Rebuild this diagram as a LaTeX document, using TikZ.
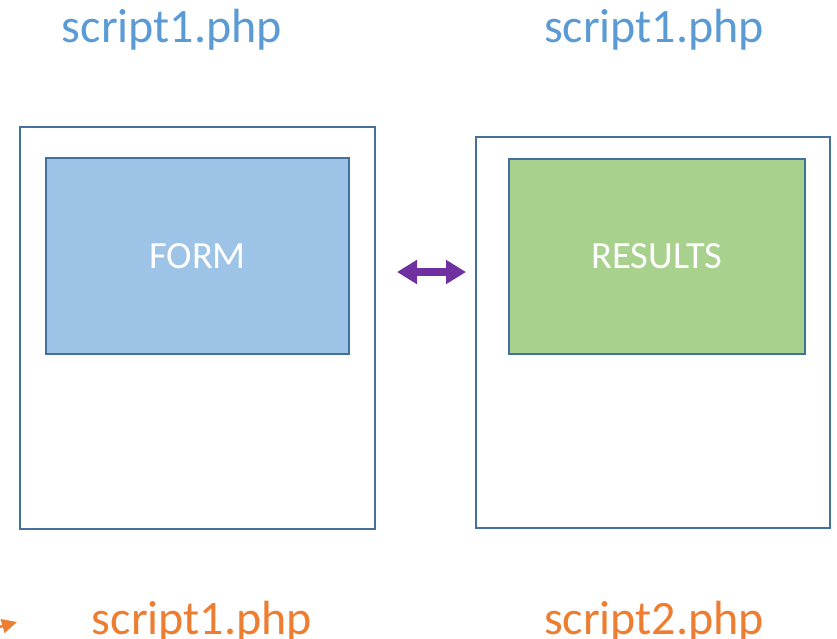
\documentclass[tikz,border=0pt]{standalone}
\usepackage{fontspec}
\setmainfont{Carlito}
\usetikzlibrary{arrows.meta}
\definecolor{titleblue}{HTML}{5B9BD5}
\definecolor{titleorange}{HTML}{ED7D31}
\definecolor{frameblue}{HTML}{41719C}
\definecolor{formfill}{HTML}{9DC3E6}
\definecolor{resfill}{HTML}{A9D18E}
\definecolor{linkpurple}{HTML}{7030A0}
\tikzset{
  page/.style={draw=frameblue, line width=2.5pt, fill=white, inner sep=0pt},
  panel/.style={draw=frameblue, line width=2.5pt, inner sep=0pt, text=white, font=\fontsize{38.5}{42}\selectfont},
  toplabel/.style={text=titleblue, font=\fontsize{48}{54}\selectfont, inner sep=0pt, anchor=base},
  botlabel/.style={text=titleorange, font=\fontsize{48}{54}\selectfont, inner sep=0pt, anchor=base},
  dbl/.style={draw=linkpurple, line width=8pt,
    {Triangle[length=20pt,width=23pt]}-{Triangle[length=20pt,width=23pt]}},
  flow/.style={draw=titleorange, line width=2.5pt, -{Triangle[length=15pt,width=14pt]}}
}
\begin{document}
\begin{tikzpicture}[x=1pt,y=-1pt]
  \useasboundingbox (0,0) rectangle (837,638);
  % left page with the form
  \node[page, minimum width=355pt, minimum height=402pt] (lo) at (197.5,328) {};
  \node[panel, fill=formfill, minimum width=303pt, minimum height=196pt] (li) at (197.5,256) {FORM};
  % right page with the results
  \node[page, minimum width=354pt, minimum height=391pt] (ro) at (653,332.5) {};
  \node[panel, fill=resfill, minimum width=296pt, minimum height=195pt] (ri) at (657,256.5) {RESULTS};
  % captions
  \node[toplabel] (t1) at (172,42) {script1.php};
  \node[toplabel] (t2) at (654,42) {script1.php};
  \node[botlabel] (b1) at (202,634) {script1.php};
  \node[botlabel] (b2) at (654,634) {script2.php};
  % link between the pages
  \coordinate (a1) at (397,272);
  \coordinate (a2) at (466,272);
  \draw[dbl] (a1) -- (a2);
  % incoming arrow at the corner
  \coordinate (f0) at (-40,638);
  \coordinate (f1) at (17,622);
  \draw[flow] (f0) -- (f1);
\end{tikzpicture}
\end{document}
